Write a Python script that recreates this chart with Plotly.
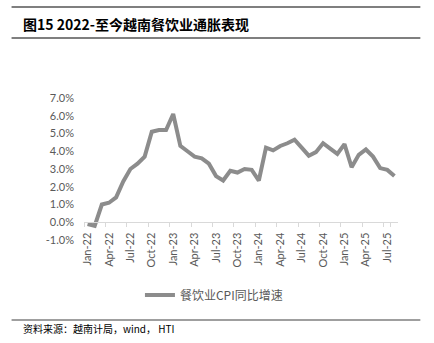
import plotly.graph_objects as go

months = ["Jan-22", "Feb-22", "Mar-22", "Apr-22", "May-22", "Jun-22", "Jul-22", "Aug-22", "Sep-22", "Oct-22", "Nov-22", "Dec-22",
          "Jan-23", "Feb-23", "Mar-23", "Apr-23", "May-23", "Jun-23", "Jul-23", "Aug-23", "Sep-23", "Oct-23", "Nov-23", "Dec-23",
          "Jan-24", "Feb-24", "Mar-24", "Apr-24", "May-24", "Jun-24", "Jul-24", "Aug-24", "Sep-24", "Oct-24", "Nov-24", "Dec-24",
          "Jan-25", "Feb-25", "Mar-25", "Apr-25", "May-25", "Jun-25", "Jul-25", "Aug-25"]

cpi_yoy = [-0.1, -0.2, 1.0, 1.1, 1.4, 2.3, 3.0, 3.3, 3.7, 5.1, 5.2, 5.2,
           6.1, 4.3, 4.0, 3.7, 3.6, 3.3, 2.6, 2.35, 2.9, 2.8, 3.0, 2.95,
           2.35, 4.2, 4.05, 4.3, 4.45, 4.65, 4.2, 3.75, 3.95, 4.45, 4.15, 3.85,
           4.4, 3.1, 3.8, 4.1, 3.7, 3.05, 2.95, 2.6]

tick_labels = months[::3]
y_ticks = [-1, 0, 1, 2, 3, 4, 5, 6, 7]

series_name = "餐饮业CPI同比增速"
title_text = "<b>图15 2022-至今越南餐饮业通胀表现</b>"
source_text = "资料来源：越南计局，wind， HTI"

W, H = 434, 343
L, R, T, B = 84.3, 397.7, 98, 240  # plot area in px


def px_x(x):
    return (x - L) / (R - L)


def px_y(y):
    return (B - y) / (B - T)


fig = go.Figure()
fig.add_trace(go.Scatter(
    x=months, y=cpi_yoy, mode="lines", name=series_name,
    line=dict(color="#8c8c8c", width=4),
))

tick_font = dict(family="Lato, 'Noto Sans', sans-serif", size=11, color="#595959")

fig.update_layout(
    width=W, height=H,
    margin=dict(l=L, r=W - R, t=T, b=H - B, pad=0),
    paper_bgcolor="white", plot_bgcolor="white",
    showlegend=True,
    legend=dict(orientation="h", x=px_x(214), xanchor="center", y=px_y(295), yanchor="middle",
                font=dict(family="'Noto Sans CJK SC', sans-serif", size=12, color="#595959"),
                itemwidth=30, bgcolor="rgba(0,0,0,0)"),
    xaxis=dict(type="category", categoryorder="array", categoryarray=months,
               range=[-0.5, len(months) - 0.5],
               anchor="free", position=0.125,
               tickmode="array", tickvals=tick_labels, ticktext=tick_labels,
               tickson="boundaries", ticks="outside", ticklen=4, tickcolor="#d9d9d9",
               tickangle=-90, tickfont=tick_font, ticklabelstandoff=5,
               showline=True, linecolor="#d9d9d9", linewidth=1,
               showgrid=False, zeroline=False, fixedrange=True),
    yaxis=dict(range=[-1, 7], tickmode="array", tickvals=y_ticks,
               ticktext=[f"{v:.1f}%" for v in y_ticks],
               tickfont=tick_font, ticks="", showline=False, showgrid=False,
               zeroline=False, ticklabelstandoff=9, fixedrange=True),
)

# header / footer rules
for yy in (7, 38, 320):
    fig.add_shape(type="line", xref="paper", yref="paper",
                  x0=px_x(12), x1=px_x(420), y0=px_y(yy), y1=px_y(yy),
                  line=dict(color="#7f7f7f", width=2 if yy != 320 else 1.5))

fig.add_annotation(text=title_text, xref="paper", yref="paper",
                   x=px_x(21), y=px_y(24), xanchor="left", yanchor="middle",
                   showarrow=False,
                   font=dict(family="'Noto Sans CJK SC', sans-serif", size=14, color="#000000"))
fig.add_annotation(text=source_text, xref="paper", yref="paper",
                   x=px_x(21), y=px_y(328), xanchor="left", yanchor="middle",
                   showarrow=False,
                   font=dict(family="'Noto Sans CJK SC', sans-serif", size=10, color="#000000"))

fig.write_html("out.html")
